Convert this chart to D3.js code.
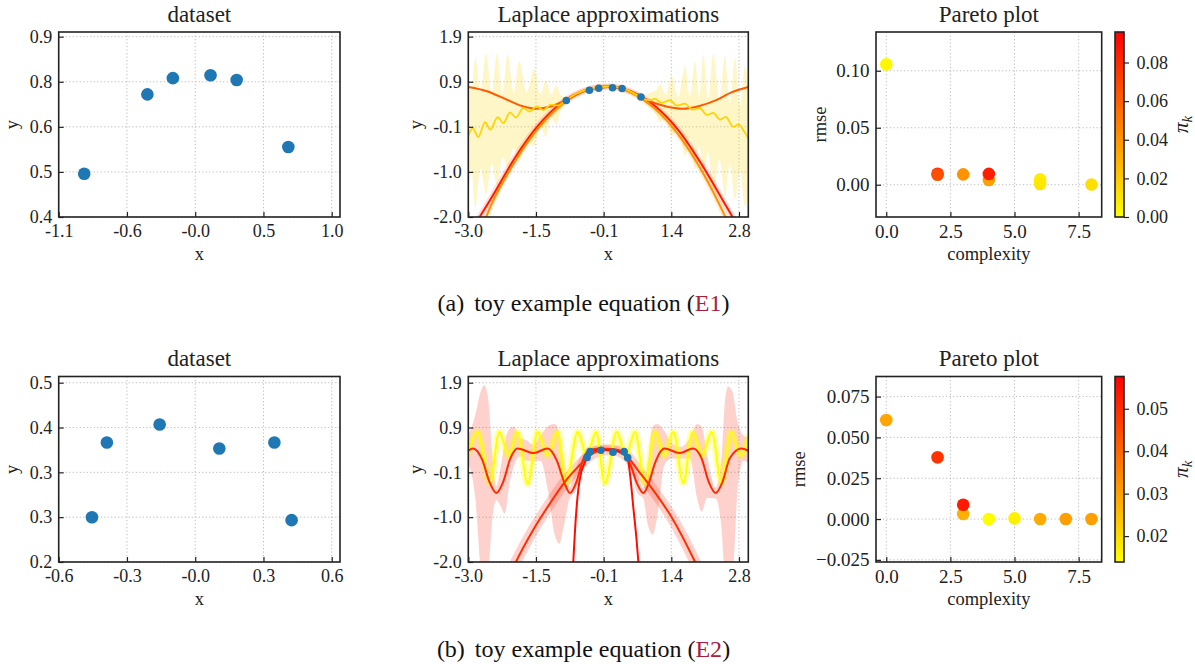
<!DOCTYPE html>
<html>
<head>
<meta charset="utf-8">
<script src="https://cdn.jsdelivr.net/npm/d3@7"></script>
<style>
  html, body { margin: 0; padding: 0; background: #fff; }
  svg { display: block; }
</style>
</head>
<body>
<script>
// ---------------- Equation E1 ----------------
const e1PtsX = [-0.90, -0.405, -0.205, 0.09, 0.295, 0.70];
const e1PtsY = [0.52, 0.74, 0.785, 0.793, 0.78, 0.594];

const e1DataXLim = [-1.1, 1.105];
const e1DataXTicks = [-1.1, -0.565, -0.03, 0.505, 1.04];
const e1DataXLabels = ["-1.1", "-0.6", "-0.0", "0.5", "1.0"];
const e1DataYLim = [0.4, 0.913];
const e1DataYTicks = [0.4, 0.525, 0.65, 0.775, 0.9];
const e1DataYLabels = ["0.4", "0.5", "0.6", "0.8", "0.9"];

// Laplace approximation axes (shared ticks)
const lapXLim = [-3, 3];
const lapXTicks = [-3, -1.55, -0.1, 1.35, 2.8];
const lapXLabels = ["-3.0", "-1.5", "-0.1", "1.4", "2.8"];
const lapYTicks = [-2, -1.025, -0.05, 0.925, 1.9];
const lapYLabels = ["-2.0", "-1.0", "-0.1", "0.9", "1.9"];
const e1LapYLim = [-2, 2.0];
const e2LapYLim = [-2, 2.035];

// E1 candidate curves [x, y]
const e1Red = [[-2.85, -2.15], [-2.5, -1.58], [-2.0, -0.72], [-1.5, -0.02], [-1.0, 0.47], [-0.5, 0.74],
  [0.0, 0.82], [0.5, 0.71], [1.0, 0.40], [1.5, -0.12], [2.0, -0.86], [2.5, -1.72], [2.75, -2.15]];
const e1Orange = [[-2.7, -2.2], [-2.5, -1.72], [-2.0, -0.80], [-1.5, -0.08], [-1.0, 0.43], [-0.5, 0.73],
  [0.0, 0.82], [0.5, 0.68], [1.0, 0.34], [1.5, -0.22], [2.0, -1.0], [2.5, -1.98], [2.6, -2.2]];
const e1OrangeRed = [[-3.0, 0.81], [-2.6, 0.72], [-2.2, 0.55], [-1.85, 0.40], [-1.55, 0.34], [-1.2, 0.40],
  [-0.9, 0.53], [-0.5, 0.73], [0.0, 0.81], [0.5, 0.70], [0.8, 0.54], [1.2, 0.40], [1.6, 0.34],
  [1.95, 0.40], [2.3, 0.52], [2.65, 0.70], [3.0, 0.81]];
const e1Gold = [[-3.0, -0.24], [-2.906, -0.08], [-2.785, -0.27], [-2.642, 0.05], [-2.528, -0.11],
  [-2.371, 0.16], [-2.25, 0.03], [-2.107, 0.26], [-1.978, 0.15], [-1.821, 0.36], [-1.692, 0.28],
  [-1.535, 0.39], [-1.392, 0.31], [-1.228, 0.43], [-1.085, 0.41], [-0.92, 0.52], [-0.7, 0.66],
  [-0.45, 0.76], [-0.2, 0.81], [0.05, 0.82], [0.3, 0.78], [0.5, 0.70], [0.715, 0.575], [0.858, 0.525],
  [1.0, 0.555], [1.144, 0.467], [1.322, 0.525], [1.465, 0.41], [1.644, 0.452], [1.801, 0.322],
  [1.965, 0.351], [2.108, 0.206], [2.251, 0.25], [2.394, 0.105], [2.515, 0.163], [2.68, -0.05],
  [2.787, 0.0], [2.93, -0.18], [3.0, -0.29]];
// uncertainty band of the gold curve [x, low, high]
const e1GoldBand = [[-3.0, -1.55, 0.95], [-2.93, -1.0, 0.75], [-2.85, -1.78, 1.44], [-2.74, -0.95, 0.7],
  [-2.62, -1.5, 1.54], [-2.5, -0.85, 0.65], [-2.385, -1.31, 1.54], [-2.27, -0.7, 0.65],
  [-2.157, -0.91, 1.52], [-2.03, -0.5, 0.7], [-1.907, -0.8, 1.37], [-1.75, -0.3, 0.7],
  [-1.585, -0.47, 1.2], [-1.46, -0.05, 0.65], [-1.335, -0.26, 0.97], [-1.23, 0.15, 0.65],
  [-1.12, 0.0, 0.84], [-1.0, 0.35, 0.62], [-0.9, 0.46, 0.6], [-0.5, 0.71, 0.78], [0.0, 0.79, 0.85],
  [0.5, 0.67, 0.74], [0.75, 0.5, 0.62], [0.9, 0.35, 0.7], [1.0, 0.25, 0.72], [1.108, 0.05, 0.87],
  [1.23, 0.15, 0.65], [1.358, -0.26, 1.05], [1.5, 0.0, 0.6], [1.644, -0.69, 1.26], [1.75, -0.3, 0.6],
  [1.858, -0.98, 1.37], [1.95, -0.45, 0.6], [2.036, -1.1, 1.52], [2.14, -0.6, 0.55],
  [2.25, -1.41, 1.54], [2.38, -0.75, 0.5], [2.5, -1.56, 1.48], [2.6, -0.85, 0.45],
  [2.715, -1.63, 1.44], [2.82, -1.0, 0.4], [2.93, -1.78, 1.26], [3.0, -1.5, 0.9]];

// E1 Pareto front
const e1Complexity = [0, 2, 2, 3, 4, 4, 6, 6, 8];
const e1Rmse = [0.1056, 0.0097, 0.0088, 0.0091, 0.0041, 0.0095, 0.0047, 0.0006, 0.0002];
const e1Pi = [0.003, 0.079, 0.066, 0.041, 0.036, 0.085, 0.007, 0.009, 0.012];
const e1RmseLim = [-0.0283, 0.134];
const e1RmseTicks = [0, 0.05, 0.1];
const e1RmseLabels = ["0.00", "0.05", "0.10"];
const e1PiLim = [0, 0.0958];
const e1PiTicks = [0, 0.02, 0.04, 0.06, 0.08];
const e1PiLabels = ["0.00", "0.02", "0.04", "0.06", "0.08"];

// ---------------- Equation E2 ----------------
const e2PtsX = [-0.455, -0.39, -0.16, 0.10, 0.34, 0.415];
const e2PtsY = [0.275, 0.40, 0.43, 0.39, 0.40, 0.27];

const e2DataXLim = [-0.6, 0.626];
const e2DataXTicks = [-0.6, -0.3025, -0.005, 0.2925, 0.59];
const e2DataXLabels = ["-0.6", "-0.3", "-0.0", "0.3", "0.6"];
const e2DataYLim = [0.2, 0.5104];
const e2DataYTicks = [0.2, 0.275, 0.35, 0.425, 0.5];
const e2DataYLabels = ["0.2", "0.3", "0.3", "0.4", "0.5"];

const e2Yellow = [[-3.0, 0.33], [-2.8, 0.83], [-2.536, -0.29], [-2.336, 0.83], [-2.14, 0.31],
  [-1.943, 0.83], [-1.729, -0.30], [-1.514, 0.83], [-1.30, 0.31], [-1.086, 0.83], [-0.907, -0.30],
  [-0.657, 0.83], [-0.46, 0.31], [-0.264, 0.83], [-0.071, -0.29], [0.179, 0.83], [0.375, 0.31],
  [0.571, 0.83], [0.786, -0.29], [1.0, 0.83], [1.2, 0.31], [1.393, 0.83], [1.607, -0.28],
  [1.8, 0.83], [2.01, 0.31], [2.214, 0.83], [2.429, -0.28], [2.629, 0.83], [2.84, 0.31], [3.0, 0.72]];
const e2Wavy = [[-3.0, 0.42], [-2.9, 0.47], [-2.7, 0.22], [-2.55, -0.25], [-2.4, -0.50], [-2.25, -0.25],
  [-2.1, 0.25], [-1.95, 0.47], [-1.6, 0.37], [-1.3, 0.47], [-1.1, 0.20], [-0.95, -0.25], [-0.82, -0.50],
  [-0.68, -0.25], [-0.55, 0.20], [-0.45, 0.40], [-0.2, 0.47], [0.1, 0.46], [0.35, 0.38], [0.48, 0.10],
  [0.62, -0.30], [0.75, -0.50], [0.88, -0.25], [1.0, 0.15], [1.2, 0.47], [1.53, 0.37], [1.82, 0.47],
  [2.0, 0.25], [2.15, -0.25], [2.3, -0.50], [2.45, -0.25], [2.6, 0.25], [2.85, 0.47], [3.0, 0.42]];
const e2WavyBand = [[-3.0, 0.15, 0.75], [-2.85, -0.6, 1.2], [-2.72, -2.3, 1.75], [-2.66, -2.5, 1.85],
  [-2.58, -2.3, 1.6], [-2.48, -1.0, 0.3], [-2.4, -0.65, -0.35], [-2.3, -0.8, 0.1], [-2.22, -0.95, 0.6],
  [-2.12, -0.3, 0.9], [-2.02, 0.1, 0.95], [-1.9, 0.3, 0.7], [-1.75, 0.2, 0.65], [-1.6, 0.2, 0.55],
  [-1.45, 0.2, 0.75], [-1.3, -0.4, 0.95], [-1.15, -1.4, 1.0], [-1.05, -1.6, 0.8], [-0.95, -1.2, 0.2],
  [-0.83, -0.62, -0.38], [-0.7, -0.45, 0.05], [-0.55, 0.05, 0.35], [-0.45, 0.3, 0.5], [-0.2, 0.40, 0.54],
  [0.1, 0.39, 0.53], [0.35, 0.32, 0.46], [0.48, 0.0, 0.25], [0.62, -0.5, -0.1], [0.75, -0.62, -0.38],
  [0.85, -1.2, 0.2], [0.95, -1.4, 0.95], [1.05, -1.0, 1.0], [1.2, 0.1, 0.85], [1.35, 0.25, 0.6],
  [1.55, 0.25, 0.5], [1.75, 0.25, 0.7], [1.9, -0.6, 1.0], [2.0, -0.9, 0.95], [2.12, -0.6, 0.3],
  [2.3, -0.62, -0.38], [2.42, -1.2, 0.2], [2.5, -2.3, 1.5], [2.57, -2.5, 1.82], [2.66, -2.3, 1.7],
  [2.78, -0.3, 1.0], [2.9, 0.2, 0.75], [3.0, 0.15, 0.7]];
const e2Broad = [[-2.05, -2.15], [-1.98, -2.0], [-1.62, -1.32], [-1.26, -0.74], [-0.91, -0.23],
  [-0.62, 0.10], [-0.455, 0.27], [-0.3, 0.38], [-0.05, 0.44], [0.2, 0.42], [0.4, 0.30], [0.64, -0.01],
  [1.0, -0.49], [1.36, -1.03], [1.86, -2.0], [1.93, -2.15]];
const e2Steep = [[-0.76, -2.2], [-0.70, -1.1], [-0.64, -0.4], [-0.58, -0.05], [-0.5, 0.17],
  [-0.455, 0.275], [-0.39, 0.37], [-0.2, 0.44], [0.1, 0.43], [0.3, 0.36], [0.415, 0.25], [0.465, -0.09],
  [0.536, -0.81], [0.60, -1.45], [0.645, -2.0], [0.66, -2.2]];

const e2Complexity = [0, 2, 3, 3, 4, 5, 6, 7, 8];
const e2Rmse = [0.0607, 0.0378, 0.0031, 0.0088, 0.0, 0.0004, 0.0, 0.0, 0.0];
const e2Pi = [0.0293, 0.0489, 0.0274, 0.0531, 0.0142, 0.0165, 0.0285, 0.0302, 0.0302];
const e2RmseLim = [-0.0263, 0.0873];
const e2RmseTicks = [-0.025, 0, 0.025, 0.05, 0.075];
const e2RmseLabels = ["\u22120.025", "0.000", "0.025", "0.050", "0.075"];
const e2PiLim = [0.0139, 0.0576];
const e2PiTicks = [0.02, 0.03, 0.04, 0.05];
const e2PiLabels = ["0.02", "0.03", "0.04", "0.05"];

// shared Pareto x axis
const cxLim = [-0.4, 8.4];
const cxTicks = [0, 2.5, 5, 7.5];
const cxLabels = ["0.0", "2.5", "5.0", "7.5"];

// ---------------- drawing ----------------
const FONT = '"Liberation Serif", "Times New Roman", serif';
const INK = "#222";
const BLUE = "#1f77b4";

const svg = d3.select("body").append("svg").attr("width", 1195).attr("height", 664);
const defs = svg.append("defs");

const rowGeo = [{ top: 32, height: 185 }, { top: 376.5, height: 185.5 }];
const colGeo = {
  data: { left: 58.7, width: 281.3, yLabelX: 17.5 },
  lap: { left: 468.3, width: 280, yLabelX: 421.5 },
  par: { left: 876, width: 225.7, yLabelX: 826 }
};
const cbGeo = { left: 1115, width: 9 };

let clipN = 0;
function panel(col, row, o) {
  const x = d3.scaleLinear().domain(o.xLim).range([col.left, col.left + col.width]);
  const y = d3.scaleLinear().domain(o.yLim).range([row.top + row.height, row.top]);
  const g = svg.append("g");
  const id = "clip" + (++clipN);
  defs.append("clipPath").attr("id", id).append("rect")
    .attr("x", col.left).attr("y", row.top).attr("width", col.width).attr("height", row.height);
  const grid = g.append("g").attr("stroke", "#b3b3b3").attr("stroke-width", 0.9)
    .attr("stroke-dasharray", "1.2 2.3").attr("fill", "none");
  grid.selectAll("line.gx").data(o.xTicks).join("line").attr("class", "gx")
    .attr("x1", d => x(d)).attr("x2", d => x(d)).attr("y1", row.top).attr("y2", row.top + row.height);
  grid.selectAll("line.gy").data(o.yTicks).join("line").attr("class", "gy")
    .attr("y1", d => y(d)).attr("y2", d => y(d)).attr("x1", col.left).attr("x2", col.left + col.width);
  const plot = g.append("g").attr("clip-path", `url(#${id})`);
  return { x, y, g, plot, col, row, o };
}

function styleAxis(a, size) {
  a.select(".domain").remove();
  a.attr("font-family", FONT).attr("font-size", size || 18);
  a.selectAll("line").attr("stroke", INK).attr("stroke-width", 1.2);
  a.selectAll("text").attr("fill", INK);
}

function finish(p) {
  const { x, y, g, col, row, o } = p;
  const bottom = row.top + row.height;
  const ax = g.append("g").attr("transform", `translate(0,${bottom})`)
    .call(d3.axisBottom(x).tickValues(o.xTicks).tickFormat((d, i) => o.xLabels[i])
      .tickSizeInner(-5).tickSizeOuter(0).tickPadding(7.5));
  const ay = g.append("g").attr("transform", `translate(${col.left},0)`)
    .call(d3.axisLeft(y).tickValues(o.yTicks).tickFormat((d, i) => o.yLabels[i])
      .tickSizeInner(-5).tickSizeOuter(0).tickPadding(6.5));
  styleAxis(ax, o.tickSize); styleAxis(ay, o.tickSize);
  g.append("rect").attr("x", col.left).attr("y", row.top).attr("width", col.width).attr("height", row.height)
    .attr("fill", "none").attr("stroke", INK).attr("stroke-width", 1.6);
  g.append("text").attr("x", col.left + col.width / 2).attr("y", row.top - 10.5)
    .attr("text-anchor", "middle").attr("font-family", FONT).attr("font-size", 23).attr("fill", INK)
    .text(o.title);
  g.append("text").attr("x", col.left + col.width / 2).attr("y", bottom + 42.5)
    .attr("text-anchor", "middle").attr("font-family", FONT).attr("font-size", 18.5).attr("fill", INK)
    .text(o.xLabel);
  const ylx = o.yLabelX != null ? o.yLabelX : col.yLabelX;
  g.append("text").attr("transform", `translate(${ylx},${row.top + row.height / 2}) rotate(-90)`)
    .attr("text-anchor", "middle").attr("font-family", FONT).attr("font-size", 18.5).attr("fill", INK)
    .text(o.yLabel);
}

const lineOf = p => d3.line().x(d => p.x(d[0])).y(d => p.y(d[1])).curve(d3.curveMonotoneX);
const areaOf = p => d3.area().x(d => p.x(d[0])).y0(d => p.y(d[1])).y1(d => p.y(d[2])).curve(d3.curveMonotoneX);

function drawDataset(row, xs, ys, o) {
  const p = panel(colGeo.data, row, o);
  p.plot.selectAll("circle").data(xs.map((v, i) => [v, ys[i]])).join("circle")
    .attr("cx", d => p.x(d[0])).attr("cy", d => p.y(d[1])).attr("r", 6.3).attr("fill", BLUE);
  finish(p);
}

function curve(p, data, color, width, opacity) {
  p.plot.append("path").datum(data).attr("d", lineOf(p)).attr("fill", "none")
    .attr("stroke", color).attr("stroke-width", width).attr("stroke-opacity", opacity == null ? 1 : opacity)
    .attr("stroke-linejoin", "round").attr("stroke-linecap", "round");
}
function band(p, data, color, opacity) {
  p.plot.append("path").datum(data).attr("d", areaOf(p)).attr("fill", color).attr("fill-opacity", opacity);
}
function dots(p, xs, ys) {
  p.plot.append("g").selectAll("circle").data(xs.map((v, i) => [v, ys[i]])).join("circle")
    .attr("cx", d => p.x(d[0])).attr("cy", d => p.y(d[1])).attr("r", 3.8).attr("fill", BLUE);
}

function drawPareto(row, cx, rm, pi, o, cbLim, cbTicks, cbLabels) {
  const p = panel(colGeo.par, row, o);
  const color = d3.scaleLinear().domain(cbLim).range(["#ffff00", "#ff0000"]).clamp(true);
  p.plot.selectAll("circle").data(cx.map((v, i) => [v, rm[i], pi[i]])).join("circle")
    .attr("cx", d => p.x(d[0])).attr("cy", d => p.y(d[1])).attr("r", 6.3).attr("fill", d => color(d[2]));
  finish(p);

  // colour bar
  const cy = d3.scaleLinear().domain(cbLim).range([row.top + row.height, row.top]);
  const gid = "cbgrad" + (++clipN);
  const grad = defs.append("linearGradient").attr("id", gid).attr("x1", 0).attr("y1", 1).attr("x2", 0).attr("y2", 0);
  grad.append("stop").attr("offset", 0).attr("stop-color", color(cbLim[0]));
  grad.append("stop").attr("offset", 1).attr("stop-color", color(cbLim[1]));
  const g = svg.append("g");
  g.append("rect").attr("x", cbGeo.left).attr("y", row.top).attr("width", cbGeo.width).attr("height", row.height)
    .attr("fill", `url(#${gid})`);
  const ac = g.append("g").attr("transform", `translate(${cbGeo.left + cbGeo.width},0)`)
    .call(d3.axisRight(cy).tickValues(cbTicks).tickFormat((d, i) => cbLabels[i])
      .tickSizeInner(5).tickSizeOuter(0).tickPadding(7.5));
  styleAxis(ac);
  g.append("rect").attr("x", cbGeo.left).attr("y", row.top).attr("width", cbGeo.width).attr("height", row.height)
    .attr("fill", "none").attr("stroke", INK).attr("stroke-width", 1.6);
  const t = g.append("text").attr("transform", `translate(1188,${row.top + row.height / 2}) rotate(-90)`)
    .attr("text-anchor", "middle").attr("font-family", FONT).attr("font-size", 21).attr("fill", INK);
  t.append("tspan").attr("font-style", "italic").text("\u03c0");
  t.append("tspan").attr("font-style", "italic").attr("font-size", 15).attr("dy", 4).text("k");
}

function caption(y, tag, ref) {
  const t = svg.append("text").attr("x", 583.5).attr("y", y).attr("text-anchor", "middle")
    .attr("font-family", FONT).attr("font-size", 24).attr("fill", "#111");
  t.append("tspan").text(`(${tag})`);
  t.append("tspan").attr("dx", 10).text("toy example equation (");
  t.append("tspan").attr("fill", "#a8203c").text(ref);
  t.append("tspan").text(")");
}

// ---- row (a): E1 ----
const rA = rowGeo[0];
drawDataset(rA, e1PtsX, e1PtsY, {
  xLim: e1DataXLim, xTicks: e1DataXTicks, xLabels: e1DataXLabels,
  yLim: e1DataYLim, yTicks: e1DataYTicks, yLabels: e1DataYLabels,
  title: "dataset", xLabel: "x", yLabel: "y"
});
{
  const p = panel(colGeo.lap, rA, {
    xLim: lapXLim, xTicks: lapXTicks, xLabels: lapXLabels,
    yLim: e1LapYLim, yTicks: lapYTicks, yLabels: lapYLabels,
    title: "Laplace approximations", xLabel: "x", yLabel: "y"
  });
  band(p, e1GoldBand, "#ffd400", 0.22);
  curve(p, e1Red, "#ff1a00", 6, 0.15);
  curve(p, e1Orange, "#ff9000", 6, 0.15);
  curve(p, e1Red, "#ff1a00", 2);
  curve(p, e1Orange, "#ff9000", 2);
  curve(p, e1OrangeRed, "#ff5a00", 2);
  curve(p, e1Gold, "#ffd400", 1.8);
  dots(p, e1PtsX, e1PtsY);
  finish(p);
}
drawPareto(rA, e1Complexity, e1Rmse, e1Pi, {
  xLim: cxLim, xTicks: cxTicks, xLabels: cxLabels,
  yLim: e1RmseLim, yTicks: e1RmseTicks, yLabels: e1RmseLabels,
  title: "Pareto plot", xLabel: "complexity", yLabel: "rmse", tickSize: 19
}, e1PiLim, e1PiTicks, e1PiLabels);
caption(311, "a", "E1");

// ---- row (b): E2 ----
const rB = rowGeo[1];
drawDataset(rB, e2PtsX, e2PtsY, {
  xLim: e2DataXLim, xTicks: e2DataXTicks, xLabels: e2DataXLabels,
  yLim: e2DataYLim, yTicks: e2DataYTicks, yLabels: e2DataYLabels,
  title: "dataset", xLabel: "x", yLabel: "y"
});
{
  const p = panel(colGeo.lap, rB, {
    xLim: lapXLim, xTicks: lapXTicks, xLabels: lapXLabels,
    yLim: e2LapYLim, yTicks: lapYTicks, yLabels: lapYLabels,
    title: "Laplace approximations", xLabel: "x", yLabel: "y"
  });
  band(p, e2WavyBand, "#ff1a00", 0.2);
  curve(p, e2Broad, "#ff1a00", 11, 0.2);
  curve(p, e2Yellow, "#ffff00", 7, 0.3);
  curve(p, e2Yellow, "#ffff00", 2);
  curve(p, e2Wavy, "#ff2a00", 2);
  curve(p, e2Broad, "#ff3000", 2);
  curve(p, e2Steep, "#ff0d00", 2);
  dots(p, e2PtsX, e2PtsY);
  finish(p);
}
drawPareto(rB, e2Complexity, e2Rmse, e2Pi, {
  xLim: cxLim, xTicks: cxTicks, xLabels: cxLabels,
  yLim: e2RmseLim, yTicks: e2RmseTicks, yLabels: e2RmseLabels,
  title: "Pareto plot", xLabel: "complexity", yLabel: "rmse", tickSize: 19, yLabelX: 805
}, e2PiLim, e2PiTicks, e2PiLabels);
caption(656.5, "b", "E2");
</script>
</body>
</html>
